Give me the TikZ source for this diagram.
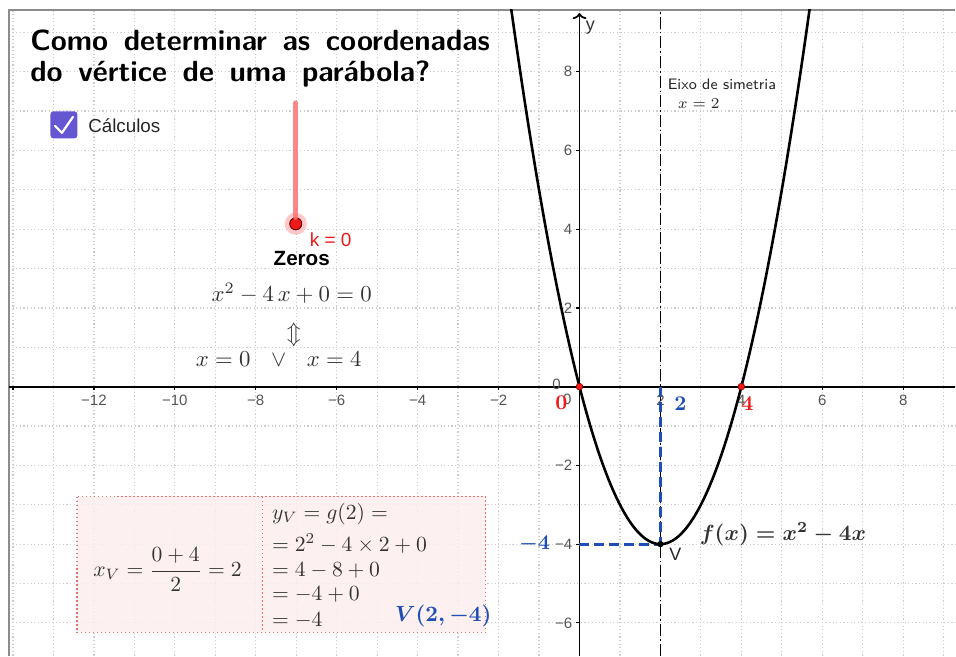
\RequirePackage{fix-cm}
\documentclass[tikz,border=0pt]{standalone}
\usepackage{amsmath}
\usepackage{fontspec}
\newfontfamily\ggsans{Liberation Sans}
\usetikzlibrary{arrows.meta}
\definecolor{gridc}{HTML}{CDCDCD}
\definecolor{framec}{HTML}{8C8C8C}
\definecolor{vblue}{HTML}{1F4FB5}
\definecolor{ggpurple}{HTML}{6557D2}
\definecolor{boxfill}{HTML}{FDEEEE}
\definecolor{boxline}{HTML}{F07070}
\definecolor{mathc}{HTML}{333333}
\definecolor{tickc}{HTML}{555555}
\definecolor{redc}{HTML}{F01818}
\tikzset{
  px/.style={x=0.5pt,y=-0.5pt,shift={(-290pt,193.5pt)}},
  gridline/.style={gridc,line width=0.6pt,dash pattern=on 0.6pt off 1.2pt},
  ticklab/.style={font=\ggsans\fontsize{7.5}{9}\selectfont,text=tickc,inner sep=0pt},
  mathtxt/.style={font=\fontsize{10.8}{12}\selectfont,text=mathc,inner sep=0pt},
  boldred/.style={font=\bfseries\fontsize{10.5}{12}\selectfont,text=redc,inner sep=0pt},
  boldblue/.style={font=\bfseries\boldmath\fontsize{10.5}{12}\selectfont,text=vblue,inner sep=0pt},
  redpt/.style={circle,fill=redc,draw=red!50!black,line width=0.3pt,minimum size=3.4pt,inner sep=0pt},
  blkpt/.style={circle,fill=black,minimum size=3.2pt,inner sep=0pt},
}
\begin{document}
\begin{tikzpicture}[x=20.25pt,y=19.7pt]
\begin{scope}[px]
\useasboundingbox (0,0) rectangle (956,656);
\fill[white] (0,0) rectangle (956,656);
\end{scope}
% grid
\foreach \i in {-14,...,9} \draw[gridline] (\i,-6.83) -- (\i,9.57);
\foreach \j in {-6,...,9} \draw[gridline] (-14.1,\j) -- (9.28,\j);
% frame
\draw[framec,line width=1pt] (-14.1,-6.83) -- (-14.1,9.57) -- (9.28,9.57);
% calc box (pixel)
\begin{scope}[px]
\draw[boxline,line width=0.7pt,dash pattern=on 0.7pt off 1.3pt,fill=boxfill,fill opacity=0.85] (77,497) rectangle (486,633);
\draw[boxline,line width=0.7pt,dash pattern=on 0.7pt off 1.3pt] (263,497) -- (263,633);
\end{scope}
% axes
\coordinate (xl) at (-14.1,0);
\coordinate (xr) at (9.28,0);
\coordinate (yb) at (0,-6.83);
\coordinate (yt) at (0,9.49);
\draw[line width=0.9pt] (xl) -- (xr);
\draw[line width=0.9pt,-{To[length=3pt,width=7pt]}] (yb) -- (yt);
\foreach \i in {-14,-12,...,8} \draw[line width=0.6pt] (\i,0) -- (\i,-0.09);
\foreach \j in {-6,-4,...,8} \draw[line width=0.6pt] (0,\j) -- (-0.09,\j);
\foreach \i in {-12,-10,-8,-6,-4,-2} \node[ticklab] (xt\i) at (\i,-0.34) {\textminus\the\numexpr-\i\relax};
\foreach \i in {2,4,6,8} \node[ticklab] (xt\i) at (\i,-0.34) {\i};
\foreach \j in {2,4,6,8} \node[ticklab,anchor=east] (yt\j) at (-0.17,\j) {\j};
\foreach \j in {-2,-4,-6} \node[ticklab,anchor=east] (yt\j) at (-0.17,\j) {\textminus\the\numexpr-\j\relax};
\node[ticklab] (o1) at (-0.57,0.05) {0};
\node[ticklab] (o2) at (-0.3,-0.33) {0};
\node[font=\ggsans\fontsize{9}{10}\selectfont,text=black!80] (ylab) at (0.27,9.12) {y};
% symmetry axis
\coordinate (st) at (2,9.57);
\coordinate (sb) at (2,-6.83);
\draw[line width=0.6pt,dash pattern=on 6pt off 1.5pt on 0.8pt off 1.5pt] (sb) -- (st);
% blue dashed
\coordinate (p20) at (2,0);
\coordinate (p04) at (0,-4);
\coordinate (p24) at (2,-4);
\draw[vblue,line width=1.5pt,dash pattern=on 5pt off 2.5pt] (p20) -- (p24);
\draw[vblue,line width=1.5pt,dash pattern=on 5pt off 2.5pt] (p04) -- (p24);
% parabola
\begin{scope}
\clip (-14.1,-6.83) rectangle (9.28,9.57);
\draw[line width=1.3pt,domain=-1.75:5.75,samples=200,smooth] plot (\x,{\x*\x-4*\x});
\end{scope}
\node[redpt] (z0) at (0,0) {};
\node[redpt] (z4) at (4,0) {};
\node[blkpt] (V) at (2,-4) {};
% labels in pixel coordinates
\begin{scope}[px]
\node[boldred] (r0) at (562,403) {0};
\node[boldred] (r4) at (748,404) {4};
\node[boldblue] (b2) at (681,404) {2};
\node[boldblue] (bm4) at (535,545) {$-4$};
\node[font=\ggsans\fontsize{9}{10}\selectfont,text=black!85,inner sep=0pt] (Vlab) at (676,555) {V};
\node[anchor=base west,font=\bfseries\boldmath\fontsize{11}{13}\selectfont,text=mathc,inner sep=0pt] (flab) at (700,541) {$f(x) = x^2 - 4x$};
\node[anchor=west,font=\sffamily\fontsize{7.6}{9}\selectfont,text=black!85,inner sep=0pt] (eixo) at (668,84) {Eixo de simetria};
\node[anchor=west,font=\fontsize{7.6}{9}\selectfont,text=black!85,inner sep=0pt] (eixox) at (678,104) {$x=2$};
% title
\node[anchor=base west,font=\sffamily\bfseries\fontsize{14.6}{17}\selectfont,inner sep=0pt] (t1) at (30,51) {Como\ \,determinar\ \,as\ \,coordenadas};
\node[anchor=base west,font=\sffamily\bfseries\fontsize{14.6}{17}\selectfont,inner sep=0pt] (t2) at (30,82) {do\ \,vértice\ \,de\ \,uma\ \,parábola?};
% checkbox
\node[fill=ggpurple,rounded corners=1.5pt,minimum size=13.5pt,inner sep=0pt] (cb) at (64,125) {};
\draw[white,line width=1.1pt,line cap=round,line join=round] (55,126) -- (62,133) -- (73,117);
\node[anchor=west,font=\ggsans\fontsize{9.4}{11}\selectfont,text=black!85,inner sep=0pt] (calc) at (88,126) {Cálculos};
% slider
\coordinate (ktop) at (296,103);
\fill[red!30,opacity=0.7] (296,224) circle (5.5pt);
\node[circle,fill=redc,draw=red!40!black,line width=0.5pt,minimum size=6pt,inner sep=0pt] (kpt) at (296,224) {};
\draw[red!55,opacity=0.85,line width=2.5pt,line cap=round] (ktop) -- (kpt.north);
\node[font=\ggsans\fontsize{9.5}{11}\selectfont,text=redc,inner sep=0pt] (klab) at (331,240) {k = 0};
\node[font=\ggsans\bfseries\fontsize{10.3}{12}\selectfont,inner sep=0pt] (zeros) at (302,259) {Zeros};
\node[mathtxt,anchor=base,font=\fontsize{11.4}{13}\selectfont] (eq1) at (292,302) {$x^2 - 4\,x + 0 = 0$};
\node[mathtxt,font=\fontsize{11.4}{13}\selectfont] (arr) at (294,335) {$\Updownarrow$};
\node[mathtxt,anchor=base,font=\fontsize{11.4}{13}\selectfont] (eq2) at (279,367) {$x = 0\hspace{0.9em}{\vee}\hspace{0.9em}x = 4$};
% calc box texts
\node[mathtxt,anchor=base west] (xv) at (93,577) {$\displaystyle x_V = \frac{0+4}{2} = 2$};
\node[mathtxt,anchor=base west] (yv1) at (272,520) {$y_V = g(2) =$};
\node[mathtxt,anchor=base west] (yv2) at (272,552) {$= 2^2 - 4 \times 2 + 0$};
\node[mathtxt,anchor=base west] (yv3) at (272,577) {$= 4 - 8 + 0$};
\node[mathtxt,anchor=base west] (yv4) at (272,601) {$= -4 + 0$};
\node[mathtxt,anchor=base west] (yv5) at (272,627) {$= -4$};
\node[anchor=base west,font=\bfseries\boldmath\fontsize{11}{13}\selectfont,text=vblue,inner sep=0pt] (vres) at (395,622) {$V(2, -4)$};
\end{scope}
\end{tikzpicture}
\end{document}
